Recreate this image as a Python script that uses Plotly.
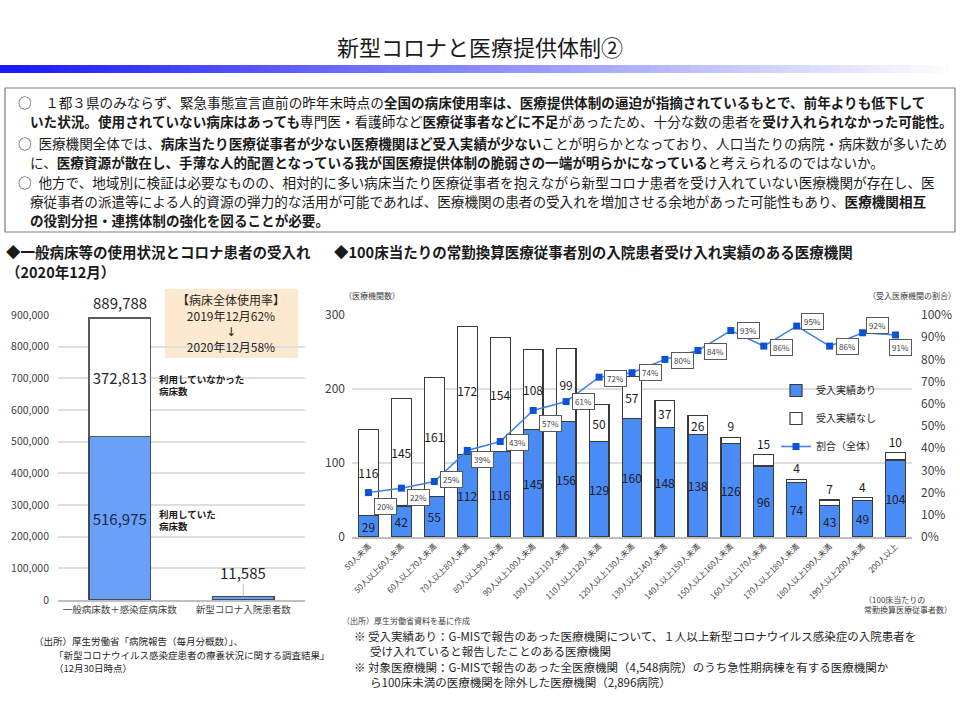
import plotly.graph_objects as go

W, H = 960, 720
FONT = "Noto Sans CJK JP"


def px(x):
    return x / W


def py(y):
    return 1 - y / H


# ---------------- data ----------------
left_cats = ["一般病床数＋感染症病床数", "新型コロナ入院患者数"]
beds_used = [516975, 11585]
beds_unused = [372813, None]
beds_total = [889788, None]
left_ticks = [0, 100000, 200000, 300000, 400000, 500000, 600000, 700000, 800000, 900000]

right_cats = ["50人未満", "50人以上60人未満", "60人以上70人未満", "70人以上80人未満",
              "80人以上90人未満", "90人以上100人未満", "100人以上110人未満", "110人以上120人未満",
              "120人以上130人未満", "130人以上140人未満", "140人以上150人未満", "150人以上160人未満",
              "160人以上170人未満", "170人以上180人未満", "180人以上190人未満", "190人以上200人未満",
              "200人以上"]
accepted = [29, 42, 55, 112, 116, 145, 156, 129, 160, 148, 138, 126, 96, 74, 43, 49, 104]
not_accepted = [116, 145, 161, 172, 154, 108, 99, 50, 57, 37, 26, 9, 15, 4, 7, 4, 10]
ratio_pct = [20, 22, 25, 39, 43, 57, 61, 72, 74, 80, 84, 93, 86, 95, 86, 92, 91]
right_ticks = [0, 100, 200, 300]
pct_ticks = [0, 10, 20, 30, 40, 50, 60, 70, 80, 90, 100]

# label placement style (pixel nudges for the ratio boxes)
pct_label_dy = [14, 9, -2, 9, 1, 13, 0, 1, 0, 1, 1, 0, 1, -5, 0, -7, 13]
pct_label_dx = [17, 17, 17, 15, 17, 17, 17, 16, 18, 18, 18, 18, 18, 16, 18, 15, 5]

# ---------------- figure ----------------
fig = go.Figure()

BLUE_L = "#6aa0fa"
BLUE_R = "#4a8cf6"
EDGE = "#3a3a3a"

fig.add_trace(go.Bar(
    x=left_cats, y=beds_used, xaxis="x", yaxis="y", width=0.5,
    marker=dict(color=BLUE_L, line=dict(color="#404a5a", width=1.5)),
    text=[f"{v:,}" for v in beds_used], textposition=["inside", "none"],
    insidetextanchor="middle", constraintext="none", textangle=0,
    textfont=dict(size=15, color="#1a2a40", family=FONT),
    showlegend=False, hoverinfo="skip"))
fig.add_trace(go.Bar(
    x=left_cats, y=beds_unused, xaxis="x", yaxis="y", width=0.5,
    marker=dict(color="white", line=dict(color="#5a5a5a", width=1.5)),
    text=[f"{v:,}" if v else "" for v in beds_unused], textposition="inside",
    insidetextanchor="middle", constraintext="none", textangle=0,
    textfont=dict(size=15, color="#262626", family=FONT),
    showlegend=False, hoverinfo="skip"))

# right chart
fig.add_trace(go.Bar(
    x=right_cats, y=accepted, xaxis="x2", yaxis="y2", width=0.6,
    name="受入実績あり", legendgroup="a",
    marker=dict(color=BLUE_R, line=dict(color=EDGE, width=1.2)),
    text=[str(v) for v in accepted], textposition="inside", insidetextanchor="middle",
    constraintext="none", textangle=0,
    textfont=dict(size=12, color="#1a1a2a", family=FONT),
    hoverinfo="skip"))
fig.add_trace(go.Bar(
    x=right_cats, y=not_accepted, xaxis="x2", yaxis="y2", width=0.6,
    name="受入実績なし", legendgroup="b",
    marker=dict(color="white", line=dict(color=EDGE, width=1.2)),
    text=[str(v) for v in not_accepted],
    textposition=["outside" if v < 20 else "inside" for v in not_accepted],
    insidetextanchor="middle", constraintext="none", cliponaxis=False, textangle=0,
    textfont=dict(size=12, color="#1a1a1a", family=FONT),
    hoverinfo="skip"))
fig.add_trace(go.Scatter(
    x=right_cats, y=[r / 100 for r in ratio_pct], xaxis="x2", yaxis="y3",
    name="割合（全体）", legendgroup="c", mode="lines+markers",
    line=dict(color="#3f7fe6", width=1.5),
    marker=dict(symbol="square", size=7, color="#0b52d6"),
    hoverinfo="skip"))

ann = []

# left value labels
ann.append(dict(x=left_cats[0], y=beds_total[0], xref="x", yref="y", text=f"{beds_total[0]:,}",
                showarrow=False, yshift=16, font=dict(size=15, color="#262626")))
ann.append(dict(x=left_cats[1], y=beds_used[1], xref="x", yref="y", text=f"{beds_used[1]:,}",
                showarrow=True, arrowhead=0, arrowwidth=1, arrowcolor="#bfbfbf", ax=0, ay=-24,
                font=dict(size=15, color="#262626")))

# ratio labels
for i, (c, r) in enumerate(zip(right_cats, ratio_pct)):
    ann.append(dict(x=c, y=r / 100, xref="x2", yref="y3", text=f"{r}%", showarrow=False,
                    xshift=pct_label_dx[i], yshift=-pct_label_dy[i],
                    bgcolor="white", bordercolor="#595959", borderwidth=1, borderpad=2,
                    font=dict(size=8, color="#404040")))


def txt(x, y, text, size=12, color="#1a1a1a", xanchor="left", align="left"):
    ann.append(dict(x=px(x), y=py(y), xref="paper", yref="paper", text=text, showarrow=False,
                    xanchor=xanchor, yanchor="middle", align=align,
                    font=dict(size=size, color=color, family=FONT)))


def b(s):
    return f"<b>{s}</b>"


# title
txt(480, 46, "新型コロナと医療提供体制②", size=22, color="#1a1a1a", xanchor="center")

# text box lines
TS = 13.6
EN = "\u2002"
lines = [
    (16, 102, "○\u3000１都３県のみならず、緊急事態宣言直前の昨年末時点の" + b("全国の病床使用率は、医療提供体制の逼迫が指摘されているもとで、前年よりも低下して")),
    (28, 121, b("いた状況。使用されていない病床はあっても") + "専門医・看護師など" + b("医療従事者などに不足") + "があったため、十分な数の患者を" + b("受け入れられなかった可能性。")),
    (16, 143, "○" + EN + "医療機関全体では、" + b("病床当たり医療従事者が少ない医療機関ほど受入実績が少ない") + "ことが明らかとなっており、人口当たりの病院・病床数が多いため"),
    (28, 162, "に、" + b("医療資源が散在し、手薄な人的配置となっている我が国医療提供体制の脆弱さの一端が明らかになっている") + "と考えられるのではないか。"),
    (16, 182, "○" + EN + "他方で、地域別に検証は必要なものの、相対的に多い病床当たり医療従事者を抱えながら新型コロナ患者を受け入れていない医療機関が存在し、医"),
    (28, 201, "療従事者の派遣等による人的資源の弾力的な活用が可能であれば、医療機関の患者の受入れを増加させる余地があった可能性もあり、" + b("医療機関相互")),
    (28, 220, b("の役割分担・連携体制の強化を図ることが必要。")),
]
for x, y, t in lines:
    txt(x, y, t, size=TS, color="#1a1a1a")

# section headings
txt(4, 252, b("◆一般病床等の使用状況とコロナ患者の受入れ"), size=14.5)
txt(4, 271, b("（2020年12月）"), size=14.5)
txt(332, 251, b("◆100床当たりの常勤換算医療従事者別の入院患者受け入れ実績のある医療機関"), size=14.5)

# left chart side labels
txt(157, 385, b("利用していなかった<br>病床数"), size=9.5)
txt(157, 520, b("利用していた<br>病床数"), size=9.5)

# callout
txt(231, 323, "【病床全体使用率】<br>2019年12月62%<br><span style=\"font-family:DejaVu Sans\">↓</span><br>2020年12月58%",
    size=12, color="#262626", xanchor="center", align="center")

# left source
txt(32, 641, "（出所）厚生労働省「病院報告（毎月分概数）」、", size=9.5, color="#262626")
txt(52, 655, "「新型コロナウイルス感染症患者の療養状況に関する調査結果」", size=9.5, color="#262626")
txt(52, 668, "（12月30日時点）", size=9.5, color="#262626")

# right axis captions
txt(342, 295, "（医療機関数）", size=8, color="#404040")
txt(866, 295, "（受入医療機関の割合）", size=8, color="#404040")
txt(862, 604, "（100床当たりの<br>常勤換算医療従事者数）", size=8, color="#404040")

# right sources
txt(340, 620, "（出所）厚生労働省資料を基に作成", size=8, color="#404040")
txt(352, 636, "※ 受入実績あり：G-MISで報告のあった医療機関について、１人以上新型コロナウイルス感染症の入院患者を", size=11.5, color="#262626")
txt(368, 651, "受け入れていると報告したことのある医療機関", size=11.5, color="#262626")
txt(352, 667, "※ 対象医療機関：G-MISで報告のあった全医療機関（4,548病院）のうち急性期病棟を有する医療機関か", size=11.5, color="#262626")
txt(368, 682, "ら100床未満の医療機関を除外した医療機関（2,896病院）", size=11.5, color="#262626")

# shapes: gradient band, text box, callout box
shapes = []
N = 96
for i in range(N):
    t = i / (N - 1)
    r = int(25 + (255 - 25) * t)
    g = int(25 + (255 - 25) * t)
    bb = int(250 + (255 - 250) * t)
    shapes.append(dict(type="rect", xref="paper", yref="paper",
                       x0=px(i * W / N), x1=px((i + 1) * W / N + 0.5),
                       y0=py(73), y1=py(65), line=dict(width=0),
                       fillcolor=f"rgb({r},{g},{bb})", layer="below"))
shapes.append(dict(type="rect", xref="paper", yref="paper", x0=px(5), x1=px(955),
                   y0=py(232), y1=py(88), line=dict(color="#7f7f7f", width=1.2),
                   fillcolor="rgba(0,0,0,0)"))
shapes.append(dict(type="rect", xref="paper", yref="paper", x0=px(165), x1=px(298),
                   y0=py(358), y1=py(289), line=dict(width=0),
                   fillcolor="#fde9d0", layer="below"))

fig.update_layout(
    width=W, height=H,
    margin=dict(l=0, r=0, t=0, b=0, autoexpand=False),
    paper_bgcolor="white", plot_bgcolor="white",
    font=dict(family=FONT, color="#262626"),
    barmode="stack",
    annotations=ann, shapes=shapes,
    xaxis=dict(domain=[px(58), px(305)], anchor="y", showgrid=False, automargin=False,
               range=[-0.5, len(left_cats) - 0.5],
               showline=True, linecolor="#bfbfbf", linewidth=1.5, ticks="",
               tickfont=dict(size=9.5, color="#404040")),
    yaxis=dict(domain=[py(600), py(315)], anchor="x", range=[0, 900000], automargin=False,
               tickvals=left_ticks, tickformat=",", gridcolor="#dedede", gridwidth=1.5,
               zeroline=False, showline=False, tickfont=dict(size=10.5, color="#404040"),
               ticklabelstandoff=8),
    xaxis2=dict(domain=[px(352), px(912)], anchor="y2", showgrid=False, automargin=False,
                range=[-0.5, len(right_cats) - 0.5],
                showline=True, linecolor="#bfbfbf", linewidth=1.5, ticks="",
                tickangle=-45, tickfont=dict(size=8, color="#404040")),
    yaxis2=dict(domain=[py(537), py(315)], anchor="x2", range=[0, 300], automargin=False,
                tickvals=right_ticks, gridcolor="#dedede", gridwidth=1.5, zeroline=False,
                showline=False, tickfont=dict(size=12, color="#404040"), ticklabelstandoff=6),
    yaxis3=dict(overlaying="y2", anchor="x2", side="right", range=[0, 1], automargin=False,
                tickvals=[p / 100 for p in pct_ticks], tickformat=".0%", showgrid=False,
                zeroline=False, showline=False, tickfont=dict(size=12, color="#404040"),
                ticklabelstandoff=8),
    legend=dict(x=px(776), y=py(376), xanchor="left", yanchor="top",
                bgcolor="rgba(0,0,0,0)", tracegroupgap=9,
                font=dict(size=10, color="#262626")),
    bargap=0.4,
)

fig.write_html("out.html", config={"displayModeBar": False},
               post_script="document.body.style.margin='0';document.body.style.padding='0';")
